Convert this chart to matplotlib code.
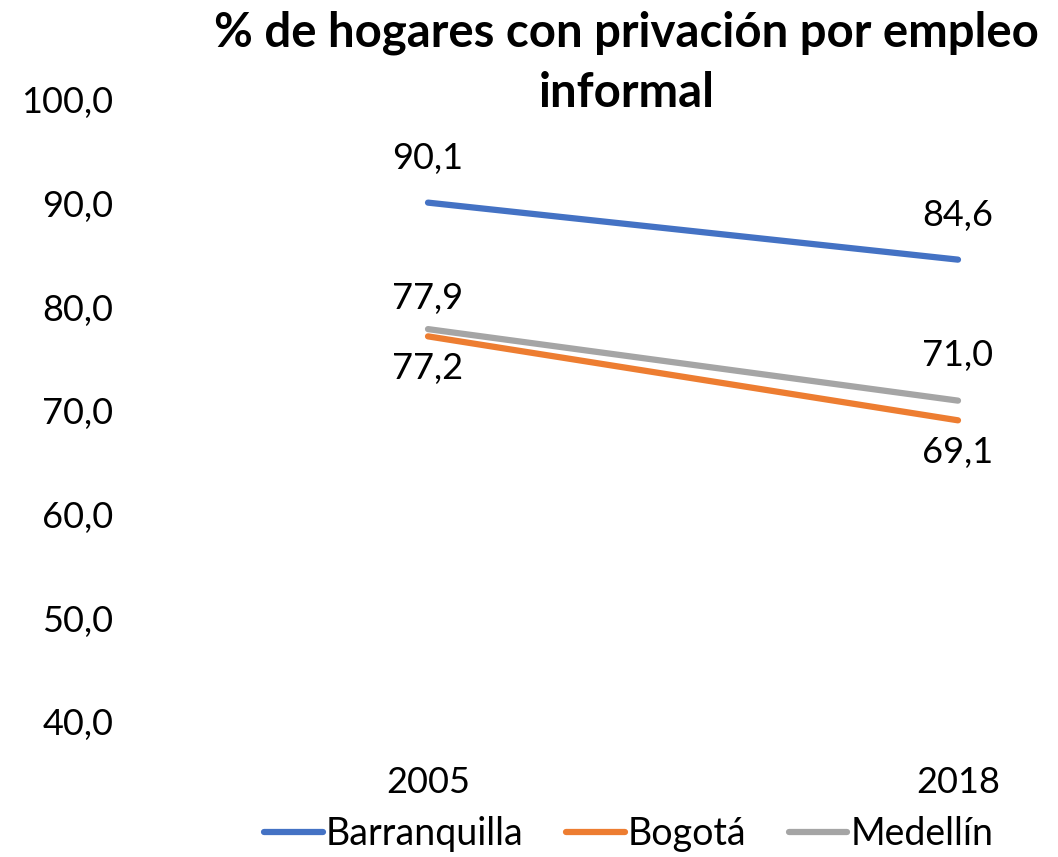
import matplotlib.pyplot as plt

plt.rcParams["font.family"] = ["Lato", "DejaVu Sans"]

YEARS = ["2005", "2018"]
CITIES = ["Barranquilla", "Bogotá", "Medellín"]
BARRANQUILLA = [90.1, 84.6]
BOGOTA = [77.2, 69.1]
MEDELLIN = [77.9, 71.0]
YTICKS = [40, 50, 60, 70, 80, 90, 100]

COLORS = ["#4472C4", "#ED7D31", "#A5A5A5"]
# label offsets (px) above (+) / below (-) each point
OFFSETS = [[44, 44], [-32, -32], [31, 45]]

fig = plt.figure(figsize=(10.58, 8.57), dpi=100)
ax = fig.add_axes([140 / 1058, 135 / 857, 900 / 1058, 622 / 857])

x = list(range(len(YEARS)))
series = [BARRANQUILLA, BOGOTA, MEDELLIN]
for i in [0, 1, 2]:
    ax.plot(x, series[i], color=COLORS[i], linewidth=4.5,
            solid_capstyle="round", label=CITIES[i], zorder=3)

for vals, offs in zip(series, OFFSETS):
    for xi, v, o in zip(x, vals, offs):
        ax.annotate(f"{v:.1f}".replace(".", ","), (xi, v),
                    xytext=(0, o * 0.72), textcoords="offset points",
                    ha="center", va="center", fontsize=26)

ax.set_xlim(-(428 - 140) / 530, 1 + (1040 - 958) / 530)
ax.set_ylim(40, 100)
ax.set_yticks(YTICKS)
ax.set_yticklabels([f"{t:.1f}".replace(".", ",") for t in YTICKS])
ax.set_xticks(x)
ax.set_xticklabels(YEARS)
ax.tick_params(axis="both", length=0, labelsize=26)
ax.tick_params(axis="y", pad=19)
ax.tick_params(axis="x", pad=32)
for s in ax.spines.values():
    s.set_visible(False)

fig.text(0.592, 0.988, "% de hogares con privación por empleo\ninformal",
         ha="center", va="top", fontsize=34, fontweight="bold",
         linespacing=1.45)

fig.legend(loc="lower center", bbox_to_anchor=(0.5945, -0.034), ncol=3,
           frameon=False, fontsize=27, handlelength=1.55, handletextpad=0.08,
           columnspacing=1.15)

plt.savefig("out.png", dpi=100)
